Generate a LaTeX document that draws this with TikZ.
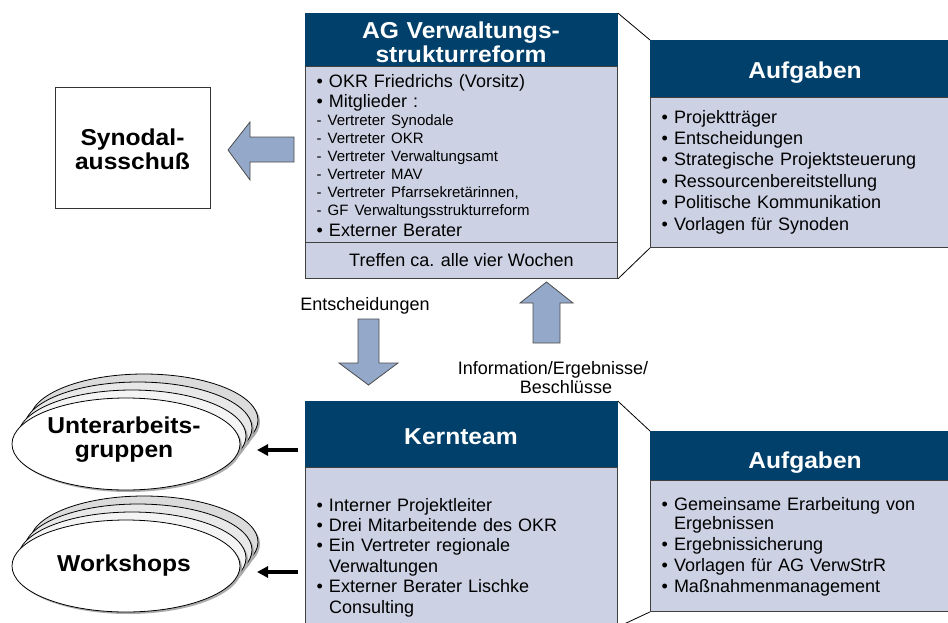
\documentclass[tikz,border=0pt]{standalone}
\usepackage{fontspec}
\setmainfont{Liberation Sans}
\newfontface\widebold{Liberation Sans Bold}[FakeStretch=1.07]
\usetikzlibrary{shapes.geometric,arrows.meta}

\definecolor{navy}{HTML}{00406A}
\definecolor{paneblue}{HTML}{CCD2E4}
\definecolor{blockblue}{HTML}{94A8CA}

\newcommand\hdrfont{\fontsize{23}{24}\selectfont\widebold}
\newcommand\subfont{\fontsize{15}{18}\selectfont}

\tikzset{
  headbar/.style={fill=navy, draw=navy, line width=0.8pt, inner sep=0pt, anchor=north west},
  pane/.style={fill=paneblue, draw=black!75, line width=0.9pt, inner sep=0pt, anchor=north west},
  plainbox/.style={fill=white, draw=black!80, line width=0.8pt, inner sep=0pt, anchor=north west},
  headtext/.style={text=white, font=\hdrfont, align=center, text width=300pt, inner sep=0pt, anchor=base},
  boxtitle/.style={text=black, font=\hdrfont, align=center, text width=200pt, inner sep=0pt, anchor=base},
  bodytext/.style={font=\fontsize{18}{#1}\selectfont, align=left, text width=290pt, inner sep=0pt, anchor=base west},
  plaintext/.style={font=\fontsize{18}{19}\selectfont, align=center, inner sep=0pt, anchor=base},
  blockarrow/.style={fill=blockblue, draw=black!70, line width=0.8pt, line join=miter},
  fatarrow/.style={line width=3.5pt, -{Triangle[length=11pt,width=11pt]}},
  link/.style={line width=0.8pt, draw=black},
  stackfront/.style={ellipse, fill=white, draw=black, line width=0.8pt, minimum width=228pt,
    minimum height=92pt, inner sep=0pt},
}

\begin{document}
\begin{tikzpicture}[x=1pt, y=-1pt]
\useasboundingbox (0,0) rectangle (948,622);
\clip (0,0) rectangle (948,622);

% ---------- AG Verwaltungsstrukturreform ----------
\node[headbar, minimum width=312pt, minimum height=53pt] (agH) at (305,13) {};
\node[pane, minimum width=312pt, minimum height=176pt] (agB) at (305,66) {};
\node[pane, minimum width=312pt, minimum height=36pt, font=\fontsize{18}{20}\selectfont] (agF) at (305,242)
  {Treffen ca. alle vier Wochen};
\node[headtext] (agT) at (461,38) {AG Verwaltungs-\\strukturreform};
\node[bodytext=20pt] (agL) at (316.5,87) {%
  • OKR Friedrichs (Vorsitz)\\
  • Mitglieder :\\[-2pt]
  {\subfont - Vertreter Synodale}\\[-2pt]
  {\subfont - Vertreter OKR}\\[-2pt]
  {\subfont - Vertreter Verwaltungsamt}\\[-2pt]
  {\subfont - Vertreter MAV}\\[-2pt]
  {\subfont - Vertreter Pfarrsekretärinnen,}\\[-2pt]
  {\subfont - GF Verwaltungsstrukturreform}\\[1pt]
  • Externer Berater};

% ---------- Aufgaben (upper) ----------
\node[headbar, minimum width=310pt, minimum height=57pt] (a1H) at (650,40) {};
\node[pane, minimum width=310pt, minimum height=150pt] (a1B) at (650,97) {};
\node[headtext] (a1T) at (805,78) {Aufgaben};
\node[bodytext=21.4pt] (a1L) at (661.5,123) {%
  • Projektträger\\
  • Entscheidungen\\
  • Strategische Projektsteuerung\\
  • Ressourcenbereitstellung\\
  • Politische Kommunikation\\
  • Vorlagen für Synoden};

\draw[link] (agH.north east) -- (a1H.north west);
\draw[link] (agF.south east) -- (a1B.south west);

% ---------- Synodalausschuss ----------
\node[plainbox, minimum width=155pt, minimum height=121pt] (syn) at (55,87) {};
\node[boxtitle] (synT) at (132.5,145) {Synodal-\\ausschuß};

% block arrow towards the Synodalausschuss
\draw[blockarrow] (228,150) -- (250,122) -- (250,137) -- (294,137) -- (294,162)
  -- (250,162) -- (250,180) -- cycle;

% ---------- arrows between the two bodies ----------
\draw[blockarrow] (358,319) -- (379,319) -- (379,363) -- (398,363) -- (368.5,385)
  -- (339,363) -- (358,363) -- cycle;
\node[plaintext] (decT) at (365,310) {Entscheidungen};

\draw[blockarrow] (546.5,282) -- (573,303) -- (560,303) -- (560,343) -- (533,343)
  -- (533,303) -- (520,303) -- cycle;
\node[plaintext] (infT) at (553,374) {Information/Ergebnisse/};
\node[plaintext] (infT2) at (566,393) {Beschlüsse};

% ---------- Kernteam ----------
\node[headbar, minimum width=312pt, minimum height=66pt] (ktH) at (305,401) {};
\node[pane, minimum width=312pt, minimum height=159pt] (ktB) at (305,467) {};
\node[headtext] (ktT) at (461,444) {Kernteam};
\node[bodytext=20.4pt] (ktL) at (316.5,511) {%
  • Interner Projektleiter\\
  • Drei Mitarbeitende des OKR\\
  • Ein Vertreter regionale\\
  \hphantom{• }Verwaltungen\\
  • Externer Berater Lischke\\
  \hphantom{• }Consulting};

% ---------- Aufgaben (lower) ----------
\node[headbar, minimum width=310pt, minimum height=49pt] (a2H) at (650,431) {};
\node[pane, minimum width=310pt, minimum height=131pt] (a2B) at (650,480) {};
\node[headtext] (a2T) at (805,468) {Aufgaben};
\node[bodytext=19pt] (a2L) at (661.5,510) {%
  • Gemeinsame Erarbeitung von\\
  \hphantom{• }Ergebnissen\\[2pt]
  • Ergebnissicherung\\[2pt]
  • Vorlagen für AG VerwStrR\\[2pt]
  • Maßnahmenmanagement};

\draw[link] (ktH.north east) -- (a2H.north west);
\draw[link] (ktB.south east) -- (a2B.south west);

% ---------- stacked ellipses ----------
\foreach \cy in {444,566} {
  \foreach \dx/\dy/\tone in {18/24/gray!28, 12/16/gray!18, 6/8/gray!9} {
    \fill[gray!65] (126+\dx+2,\cy-\dy+2) ellipse [x radius=114pt, y radius=46pt];
    \filldraw[fill=\tone, draw=black, line width=0.8pt] (126+\dx,\cy-\dy)
      ellipse [x radius=114pt, y radius=46pt];
  }
  \fill[gray!65] (128,\cy+2) ellipse [x radius=114pt, y radius=46pt];
}
\node[stackfront] (ua) at (126,444) {};
\node[stackfront] (ws) at (126,566) {};
\node[boxtitle] (uaT) at (124,433) {Unterarbeits-\\gruppen};
\node[boxtitle] (wsT) at (124,571) {Workshops};

\coordinate (uaTail) at (298,450);
\coordinate (uaTip) at (257,450);
\coordinate (wsTail) at (298,572);
\coordinate (wsTip) at (257,572);
\draw[fatarrow] (uaTail) -- (uaTip);
\draw[fatarrow] (wsTail) -- (wsTip);

\end{tikzpicture}
\end{document}
